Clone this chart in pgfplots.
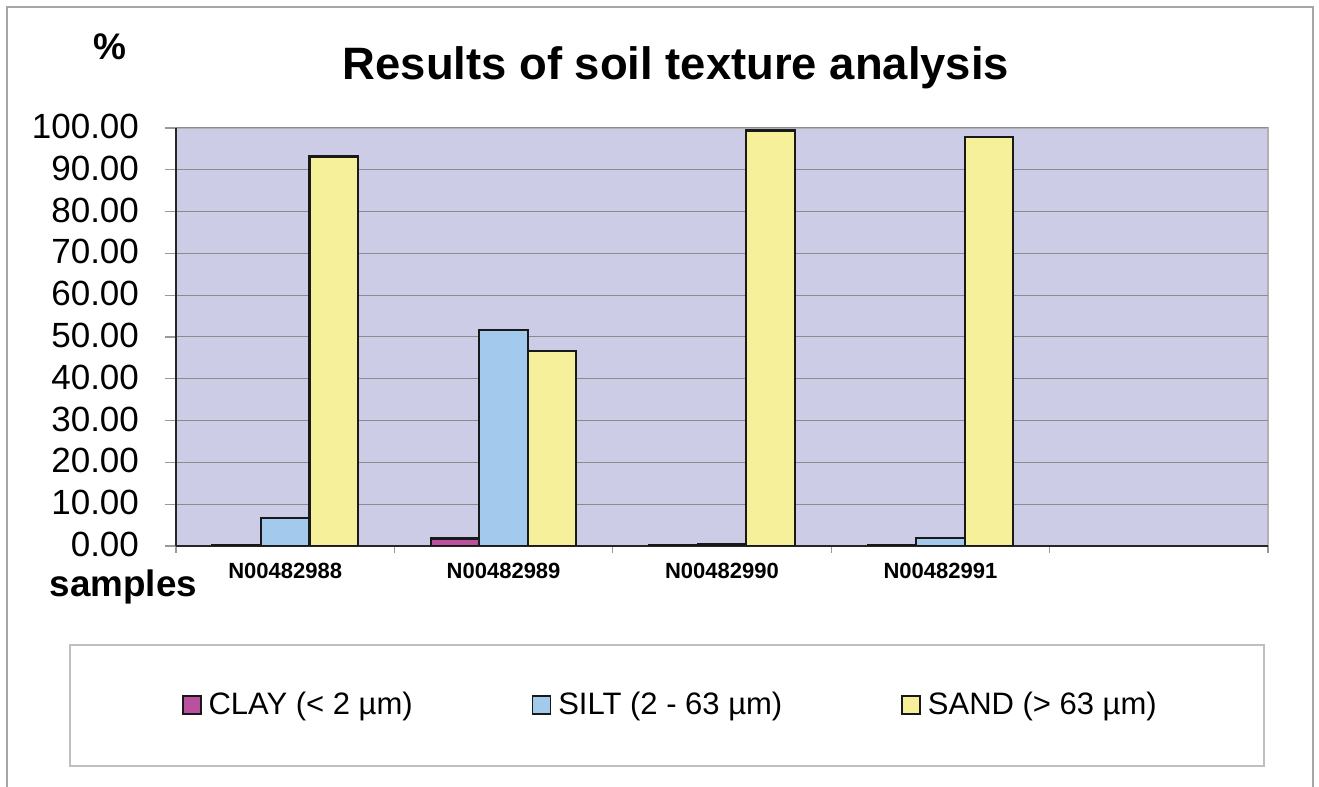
\documentclass[border=0pt]{standalone}
\usepackage{pgfplots}
\pgfplotsset{compat=1.18}
\usepackage{fontspec}
\setmainfont{Liberation Sans}
\definecolor{clay}{RGB}{187,79,160}
\definecolor{silt}{RGB}{163,202,236}
\definecolor{sand}{RGB}{246,240,155}
\definecolor{plotbg}{RGB}{204,204,230}
\pgfplotsset{sq legend/.style={legend image code/.code={\draw[##1,line width=0.8pt,draw=black!90] (0pt,-4.5pt) rectangle (9pt,4.5pt);}}}
\begin{document}
\begin{tikzpicture}
\useasboundingbox (-88pt,-120.5pt) rectangle (571.5pt,273pt);
\draw[black!35, line width=1pt] (-84.5pt,-121pt) -- (-84.5pt,269.5pt) -- (568.5pt,269.5pt) -- (568.5pt,-121pt);
\draw[black!25, line width=0.6pt] (-53pt,-49.5pt) rectangle (544pt,-110pt);
\node[font=\fontsize{22.7}{26}\selectfont\bfseries, anchor=base] at (250pt,233pt) {Results of soil texture analysis};
\node[font=\fontsize{18.5}{21}\selectfont\bfseries, anchor=base] at (-33pt,243pt) {\%};
\node[font=\fontsize{18.4}{21}\selectfont\bfseries, anchor=base] at (-26.25pt,-25.5pt) {samples};
\begin{axis}[
  at={(0pt,0pt)}, anchor=south west,
  scale only axis, width=546pt, height=209pt,
  ybar=0pt, bar width=24.25pt,
  xmin=-0.5, xmax=4.5, ymin=0, ymax=100,
  axis background/.style={fill=plotbg, draw=black!30, line width=0.8pt},
  axis x line*=bottom, axis y line*=left,
  axis line style={black!85, line width=0.6pt},
  xtick={0,1,2,3},
  xticklabels={N00482988,N00482989,N00482990,N00482991},
  major x tick style={draw=none},
  minor xtick={-0.5,0.5,1.5,2.5,3.5,4.5},
  minor tick length=3.5pt,
  minor x tick style={black!40, line width=0.6pt},
  xticklabel style={font=\fontsize{11}{13}\selectfont\bfseries, anchor=base, yshift=-11pt},
  ytick={0,10,...,100},
  major tick length=5.5pt,
  tick align=outside,
  y tick style={black!40, line width=0.6pt},
  ymajorgrids,
  grid style={black!45, line width=0.5pt},
  yticklabel style={font=\fontsize{17.5}{20}\selectfont, xshift=-9.5pt, yshift=0.8pt},
  /pgf/number format/fixed,
  /pgf/number format/fixed zerofill,
  /pgf/number format/precision=2,
  /pgf/number format/assume math mode=true,
  legend columns=3,
  legend style={draw=none, fill=none, at={(0.4550,-0.380)}, anchor=center,
    font=\fontsize{15.5}{18}\selectfont,
    nodes={inner xsep=3.5pt},
    /tikz/every even column/.append style={column sep=56pt}},
]
\addplot[fill=clay, draw=black!90, line width=1.1pt, sq legend] coordinates {(0,0.1) (1,1.8) (2,0.1) (3,0.1)};
\addplot[fill=silt, draw=black!90, line width=1.1pt, sq legend] coordinates {(0,6.7) (1,51.6) (2,0.5) (3,2.0)};
\addplot[fill=sand, draw=black!90, line width=1.1pt, sq legend] coordinates {(0,93.2) (1,46.6) (2,99.4) (3,97.9)};
\legend{CLAY (< 2 µm), SILT (2 - 63 µm), SAND (> 63 µm)}
\end{axis}
\end{tikzpicture}
\end{document}
